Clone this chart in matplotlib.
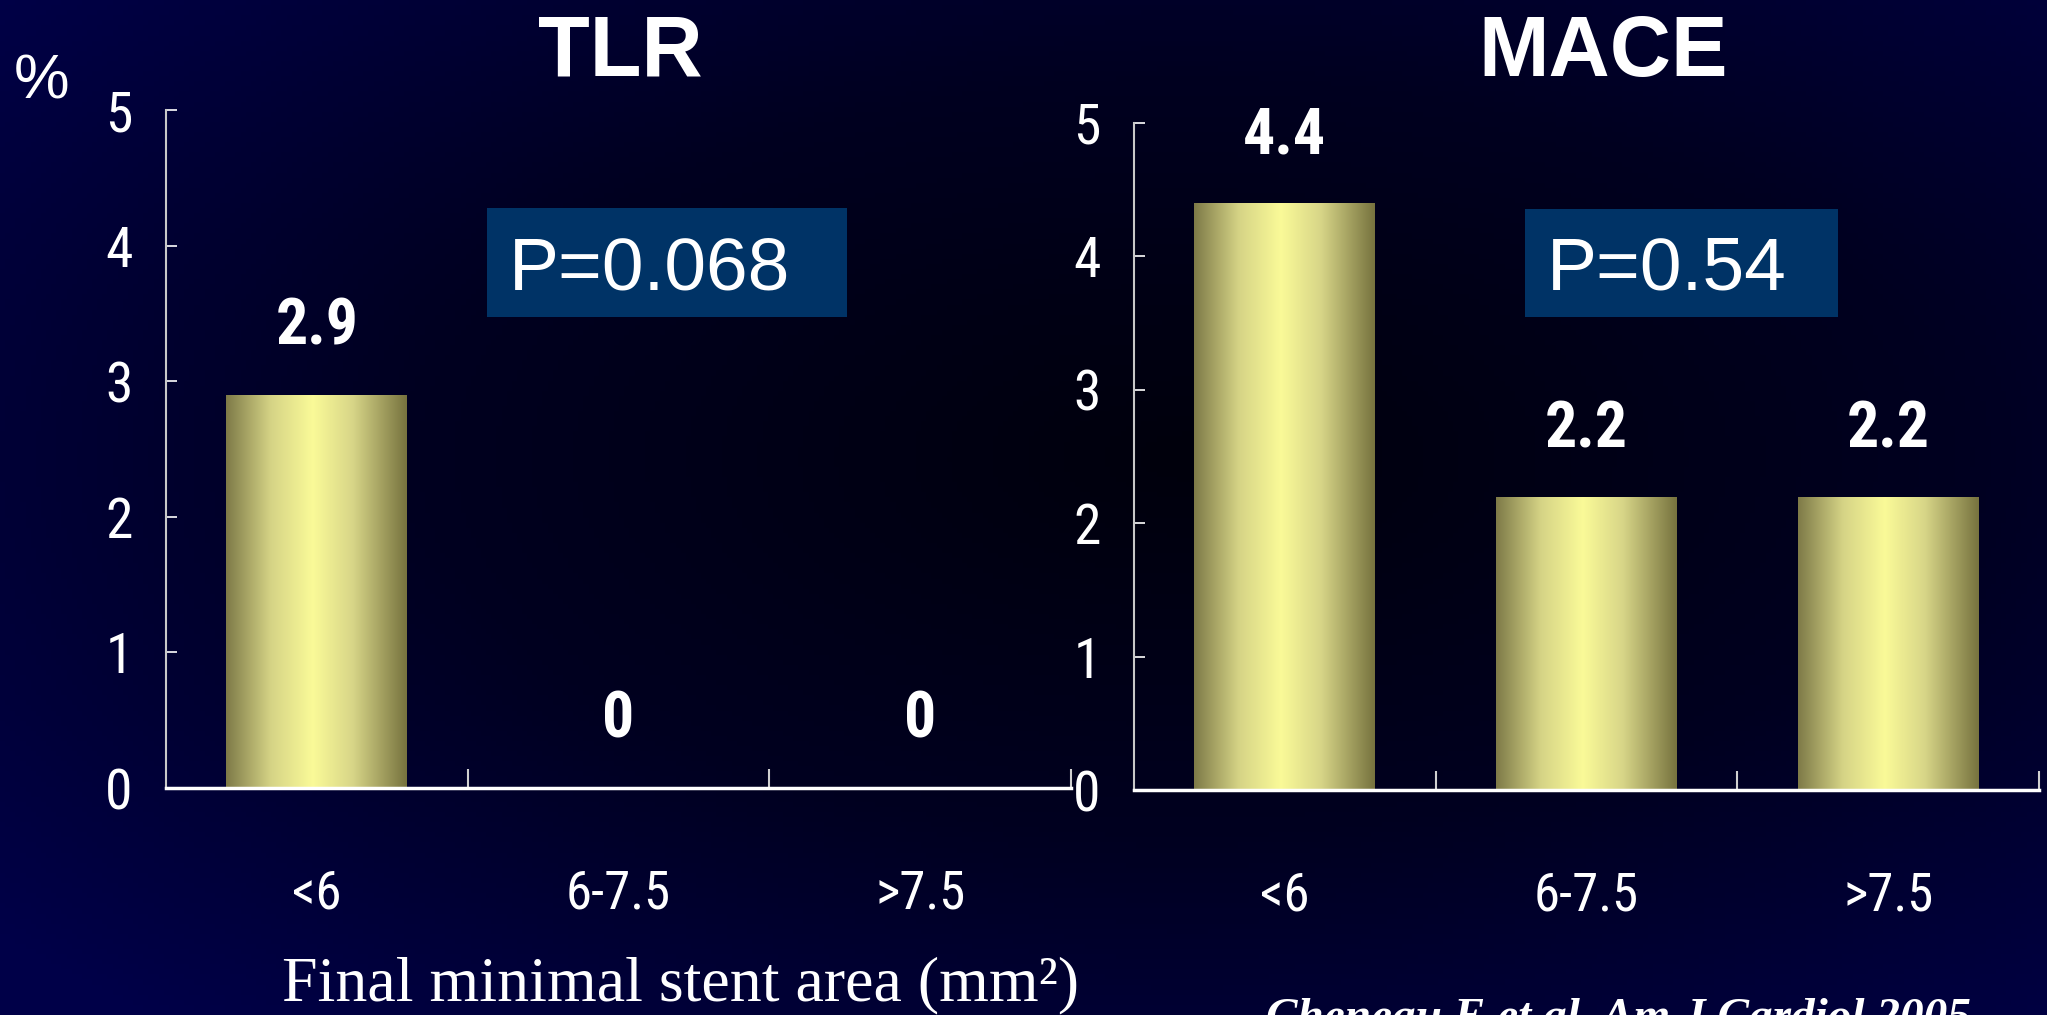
import numpy as np
import matplotlib
matplotlib.use("Agg")
import matplotlib.pyplot as plt
from matplotlib import font_manager
from matplotlib.colors import LinearSegmentedColormap
from matplotlib.patches import Rectangle

# Data
categories = ["<6", "6-7.5", ">7.5"]
tlr_values = [2.9, 0, 0]
mace_values = [4.4, 2.2, 2.2]
p_tlr = "P=0.068"
p_mace = "P=0.54"


def pick_font(names):
    available = {f.name for f in font_manager.fontManager.ttflist}
    for n in names:
        if n in available:
            return n
    return "DejaVu Sans"


narrow = pick_font(["Liberation Sans Narrow", "Arial Narrow", "Roboto Condensed"])
narrow_kw = {"family": narrow}
if narrow == "DejaVu Sans":
    narrow_kw["stretch"] = "condensed"
sans = pick_font(["Liberation Sans", "Arial"])
serif = pick_font(["Liberation Serif", "Times New Roman"])

W, H = 2047, 1015
fig = plt.figure(figsize=(W / 100, H / 100), dpi=100)

# background: dark center fading to navy at the edges
bg = fig.add_axes([0, 0, 1, 1])
bg.set_axis_off()
yy, xx = np.mgrid[0:1:200j, 0:1:400j]
r = np.sqrt(((xx - 0.58) / 0.75) ** 2 + ((yy - 0.55) / 0.75) ** 2)
r = np.clip(r, 0, 1)
bg_cmap = LinearSegmentedColormap.from_list("bg", ["#00000c", "#000020", "#000048"])
bg.imshow(r, cmap=bg_cmap, extent=[0, 1, 0, 1], aspect="auto", origin="lower")
bg.set_xlim(0, 1)
bg.set_ylim(0, 1)

bar_cmap = LinearSegmentedColormap.from_list(
    "bar", [(0, "#7e7a48"), (0.25, "#d6d486"), (0.48, "#fafa98"),
            (0.7, "#d8d688"), (1, "#77733f")])
grad = np.linspace(0, 1, 256)[None, :]


def draw_panel(rect, values, title, ptext, pbox, title_x):
    ax = fig.add_axes(rect)
    ax.patch.set_alpha(0)
    x = np.arange(len(categories))
    bars = ax.bar(x, values, width=0.6, facecolor="none", edgecolor="none")
    for b in bars:
        bx, by, bw, bh = b.get_x(), b.get_y(), b.get_width(), b.get_height()
        if bh > 0:
            im = ax.imshow(grad, cmap=bar_cmap, extent=[bx, bx + bw, by, by + bh],
                           aspect="auto", zorder=2)
            im.set_clip_path(b)
    for xi, v in zip(x, values):
        ax.text(xi, v + 0.5, f"{v:g}", ha="center", va="center", color="white",
                fontsize=46, fontweight="bold", **narrow_kw)
    ax.set_xlim(-0.5, 2.5)
    ax.set_ylim(0, 5)

    for s in ["top", "right"]:
        ax.spines[s].set_visible(False)
    ax.spines["left"].set_color("#c8c8c8")
    ax.spines["left"].set_linewidth(1.5)
    ax.spines["bottom"].set_color("white")
    ax.spines["bottom"].set_linewidth(2.5)

    ax.set_yticks(range(6))
    ax.set_yticklabels([str(i) for i in range(6)])
    ax.tick_params(axis="y", direction="in", length=8, width=1.2, colors="white",
                   pad=24, labelsize=40)
    ax.set_xticks([0.5, 1.5, 2.5])
    ax.set_xticklabels([])
    ax.set_xticks(x, minor=True)
    ax.set_xticklabels(categories, minor=True)
    ax.tick_params(axis="x", which="major", direction="in", length=14, width=1.5,
                   colors="#d0d0d0")
    ax.tick_params(axis="x", which="minor", length=0, pad=58, labelsize=38,
                   labelcolor="white")
    for lab in ax.get_yticklabels() + ax.get_xticklabels(minor=True):
        lab.set_family(narrow_kw["family"])
        if "stretch" in narrow_kw:
            lab.set_stretch(narrow_kw["stretch"])

    fig.text(title_x, 1 - 76 / H, title, ha="center", va="baseline", color="white",
             fontsize=61, fontweight="bold", family=sans)

    px0, py0, px1, py1 = pbox
    fig.patches.append(Rectangle((px0 / W, 1 - py1 / H), (px1 - px0) / W, (py1 - py0) / H,
                                 transform=fig.transFigure, facecolor="#003366",
                                 edgecolor="none", zorder=3))
    fig.text((px0 + 22) / W, 1 - 290 / H, ptext, ha="left", va="baseline",
             color="white", fontsize=54, family=sans, zorder=4)
    return ax


draw_panel([166 / W, 1 - 788 / H, (1071 - 166) / W, (788 - 110) / H],
           tlr_values, "TLR", p_tlr, (487, 208, 847, 317), 620 / W)
draw_panel([1134 / W, 1 - 790 / H, (2039 - 1134) / W, (790 - 123) / H],
           mace_values, "MACE", p_mace, (1525, 209, 1838, 317), 1603 / W)

fig.text(42 / W, 1 - 82 / H, "%", ha="center", va="center", color="white",
         fontsize=45, family=sans)
fig.text(680 / W, 1 - 1000 / H, "Final minimal stent area (mm²)", ha="center",
         va="baseline", color="white", fontsize=46, family=serif)
fig.text(1266 / W, 1 - 998 / H, "Cheneau E et al. Am J Cardiol 2005", ha="left",
         va="top", color="white", fontsize=34, family=serif, fontweight="bold",
         fontstyle="italic")

fig.savefig("out.png", dpi=100)
